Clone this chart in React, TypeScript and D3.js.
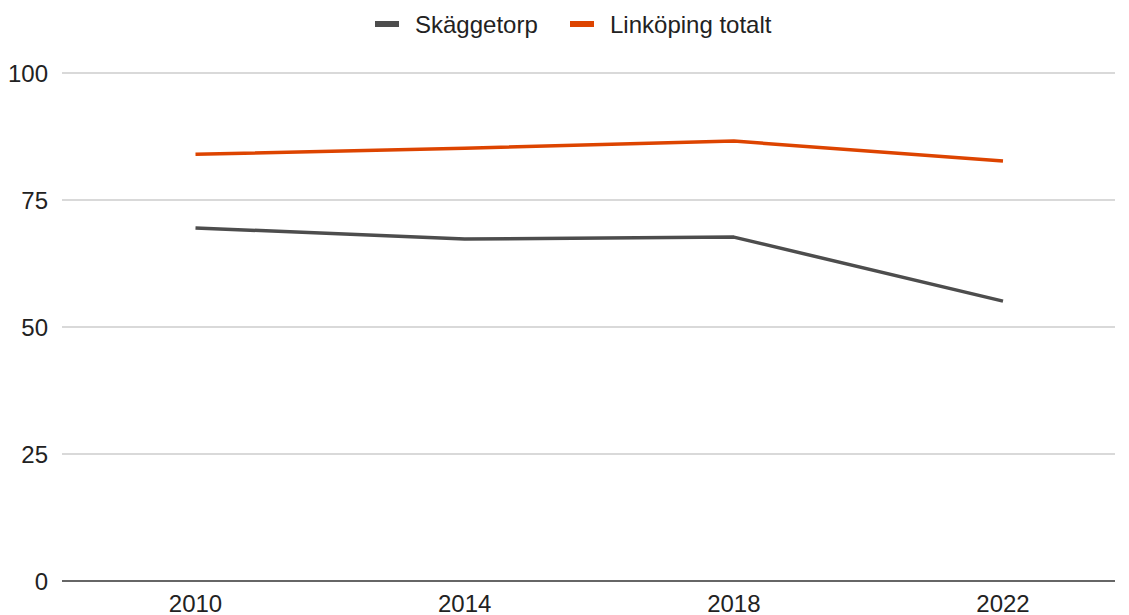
import { useEffect, useRef } from "react";
import * as d3 from "d3";

const W = 1129;
const H = 615;

const YEARS = [2010, 2014, 2018, 2022];
const SKAGGETORP = [69.5, 67.3, 67.7, 55.1];
const LINKOPING = [84.0, 85.2, 86.6, 82.7];
const Y_TICKS = [0, 25, 50, 75, 100];

const SERIES = [
  { name: "Skäggetorp", values: SKAGGETORP, color: "#4d4d4d" },
  { name: "Linköping totalt", values: LINKOPING, color: "#dd4400" },
];

const FONT = "'Liberation Sans', Arial, sans-serif";
const FS = "24px";

export default function App() {
  const svgRef = useRef<SVGSVGElement>(null);

  useEffect(() => {
    if (!svgRef.current) return;
    const svg = d3.select(svgRef.current);
    svg.selectAll("*").remove();

    const left = 62;
    const right = 1115;
    const x = d3.scaleLinear().domain([2010, 2022]).range([195.5, 1003]);
    const y = d3.scaleLinear().domain([0, 100]).range([581, 73]);

    // rutnät
    const grid = svg.append("g");
    Y_TICKS.filter((t) => t !== 0).forEach((t) => {
      grid.append("line")
        .attr("x1", left).attr("x2", right)
        .attr("y1", y(t)).attr("y2", y(t))
        .attr("stroke", "#cccccc").attr("stroke-width", 1.5);
    });

    // y-etiketter
    Y_TICKS.forEach((t) => {
      svg.append("text")
        .attr("x", 48).attr("y", y(t))
        .attr("text-anchor", "end").attr("dominant-baseline", "central")
        .attr("font-family", FONT).attr("font-size", FS)
        .attr("fill", "#222")
        .text(String(t));
    });

    // x-etiketter
    YEARS.forEach((yr) => {
      svg.append("text")
        .attr("x", x(yr)).attr("y", 603)
        .attr("text-anchor", "middle").attr("dominant-baseline", "central")
        .attr("font-family", FONT).attr("font-size", FS)
        .attr("fill", "#222")
        .text(String(yr));
    });

    // linjer
    const line = d3.line<number>()
      .x((_, i) => x(YEARS[i]))
      .y((d) => y(d));
    SERIES.forEach((s) => {
      svg.append("path")
        .attr("d", line(s.values) as string)
        .attr("fill", "none")
        .attr("stroke", s.color)
        .attr("stroke-width", 3.5)
        .attr("stroke-linejoin", "round");
    });

    // baslinje
    svg.append("line")
      .attr("x1", left).attr("x2", right)
      .attr("y1", y(0)).attr("y2", y(0))
      .attr("stroke", "#333").attr("stroke-width", 1.5);

    // förklaring
    const legendX = [375, 570];
    SERIES.forEach((s, i) => {
      const g = svg.append("g").attr("transform", `translate(${legendX[i]},24)`);
      g.append("rect")
        .attr("x", 0).attr("y", -3).attr("width", 24).attr("height", 6)
        .attr("fill", s.color);
      g.append("text")
        .attr("x", 40).attr("y", 0)
        .attr("dominant-baseline", "central")
        .attr("font-family", FONT).attr("font-size", FS)
        .attr("fill", "#222")
        .text(s.name);
    });
  }, []);

  return (
    <svg
      ref={svgRef}
      width={W}
      height={H}
      viewBox={`0 0 ${W} ${H}`}
      style={{ position: "absolute", left: 0, top: 0, background: "#fff" }}
    />
  );
}
